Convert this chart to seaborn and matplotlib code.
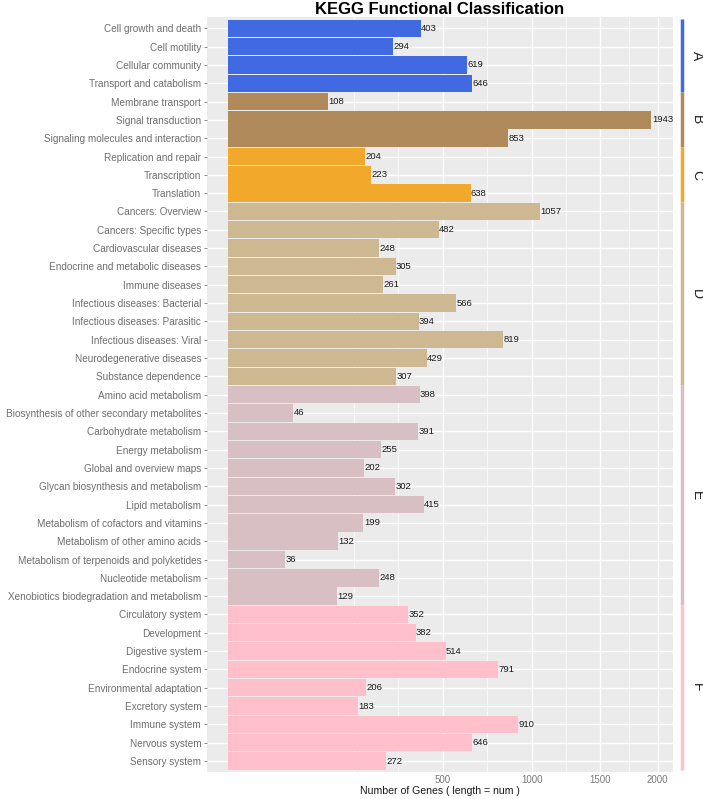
import numpy as np
import pandas as pd
import seaborn as sns
import matplotlib.pyplot as plt

# KEGG level-2 terms, grouped by level-1 class (A-F)
terms_a = ["Cell growth and death", "Cell motility", "Cellular community", "Transport and catabolism"]
nums_a = [403, 294, 619, 646]

terms_b = ["Membrane transport", "Signal transduction", "Signaling molecules and interaction"]
nums_b = [108, 1943, 853]

terms_c = ["Replication and repair", "Transcription", "Translation"]
nums_c = [204, 223, 638]

terms_d = ["Cancers: Overview", "Cancers: Specific types", "Cardiovascular diseases",
           "Endocrine and metabolic diseases", "Immune diseases", "Infectious diseases: Bacterial",
           "Infectious diseases: Parasitic", "Infectious diseases: Viral", "Neurodegenerative diseases",
           "Substance dependence"]
nums_d = [1057, 482, 248, 305, 261, 566, 394, 819, 429, 307]

terms_e = ["Amino acid metabolism", "Biosynthesis of other secondary metabolites", "Carbohydrate metabolism",
           "Energy metabolism", "Global and overview maps", "Glycan biosynthesis and metabolism",
           "Lipid metabolism", "Metabolism of cofactors and vitamins", "Metabolism of other amino acids",
           "Metabolism of terpenoids and polyketides", "Nucleotide metabolism",
           "Xenobiotics biodegradation and metabolism"]
nums_e = [398, 46, 391, 255, 202, 302, 415, 199, 132, 36, 248, 129]

terms_f = ["Circulatory system", "Development", "Digestive system", "Endocrine system",
           "Environmental adaptation", "Excretory system", "Immune system", "Nervous system",
           "Sensory system"]
nums_f = [352, 382, 514, 791, 206, 183, 910, 646, 272]

groups = ["A", "B", "C", "D", "E", "F"]
group_colors = ["#4169E1", "#B08A5A", "#F1A82B", "#CDB891", "#D8BFC4", "#FFC0CB"]
x_breaks = [500, 1000, 1500, 2000]

all_terms = [terms_a, terms_b, terms_c, terms_d, terms_e, terms_f]
all_nums = [nums_a, nums_b, nums_c, nums_d, nums_e, nums_f]

df = pd.concat(
    [pd.DataFrame({"term": t, "num": n, "group": g}) for t, n, g in zip(all_terms, all_nums, groups)],
    ignore_index=True,
)

sns.set_theme(style="darkgrid")
plt.rcParams["font.family"] = ["Liberation Sans", "DejaVu Sans"]

fig = plt.figure(figsize=(7.03, 7.99), dpi=100)
ax = fig.add_axes([206.7 / 703, 27 / 799, 466 / 703, 754.7 / 799])
ax.set_facecolor("#EBEBEB")


def fwd(x):
    return np.sign(x) * np.sqrt(np.abs(x))


def inv(y):
    return np.sign(y) * y ** 2


sns.barplot(data=df, x="num", y="term", hue="group", order=list(df["term"]),
            palette=group_colors, saturation=1, dodge=False, width=0.95, linewidth=0,
            legend=False, ax=ax, zorder=2)

# sqrt x scale with ggplot-style 5% expansion
lo_s, hi_s = -2.2, 46.3
ax.set_xscale("function", functions=(fwd, inv))
ax.set_xlim(inv(lo_s), inv(hi_s))

# minor breaks like ggplot: extend majors one step, then midpoints (sqrt space)
sb = np.sqrt(x_breaks)
ext = np.concatenate([[sb[0] - (sb[1] - sb[0])], sb, [sb[-1] + (sb[-1] - sb[-2])]])
minors = np.concatenate([ext, (ext[:-1] + ext[1:]) / 2])
minors = [m ** 2 for m in minors if 0 < m < hi_s and not np.any(np.isclose(m, sb))]

ax.set_xticks(x_breaks)
ax.set_xticks(minors, minor=True)
ax.set_xticklabels([str(b) for b in x_breaks])
ax.grid(True, which="major", color="white", linewidth=1.0)
ax.grid(True, which="minor", axis="x", color="white", linewidth=0.5)
ax.set_axisbelow(True)

ax.set_ylim(len(df) - 0.4, -0.6)
ax.tick_params(axis="x", which="both", length=0, labelsize=7, labelcolor="#7A7A7A", pad=2)
ax.tick_params(axis="y", length=2.5, width=0.6, color="#7A7A7A", labelsize=7.2,
               labelcolor="#6E6E6E", pad=1.5, left=True)
for s in ax.spines.values():
    s.set_visible(False)

for c in ax.containers:
    ax.bar_label(c, fontsize=6.8, color="#1A1A1A", padding=0.3)

ax.set_ylabel("")
ax.set_xlabel("Number of Genes ( length = num )", fontsize=7.6, color="#1A1A1A", labelpad=1)

# right-hand group strip
trans = ax.get_yaxis_transform()
start = 0
for g, col, t in zip(groups, group_colors, all_terms):
    lo, hi = start - 0.5, start + len(t) - 0.5
    ax.plot([1.02, 1.02], [lo, hi], color=col, linewidth=2.5, transform=trans,
            clip_on=False, solid_capstyle="butt")
    ax.text(1.052, (lo + hi) / 2, g, rotation=270, ha="center", va="center",
            fontsize=10, color="#222222", transform=trans, clip_on=False)
    start += len(t)

fig.text(439.5 / 703, 1 - 9.5 / 799, "KEGG Functional Classification", ha="center", va="center",
         fontsize=12, fontweight="bold", color="black")

fig.savefig("out.png", dpi=100)
